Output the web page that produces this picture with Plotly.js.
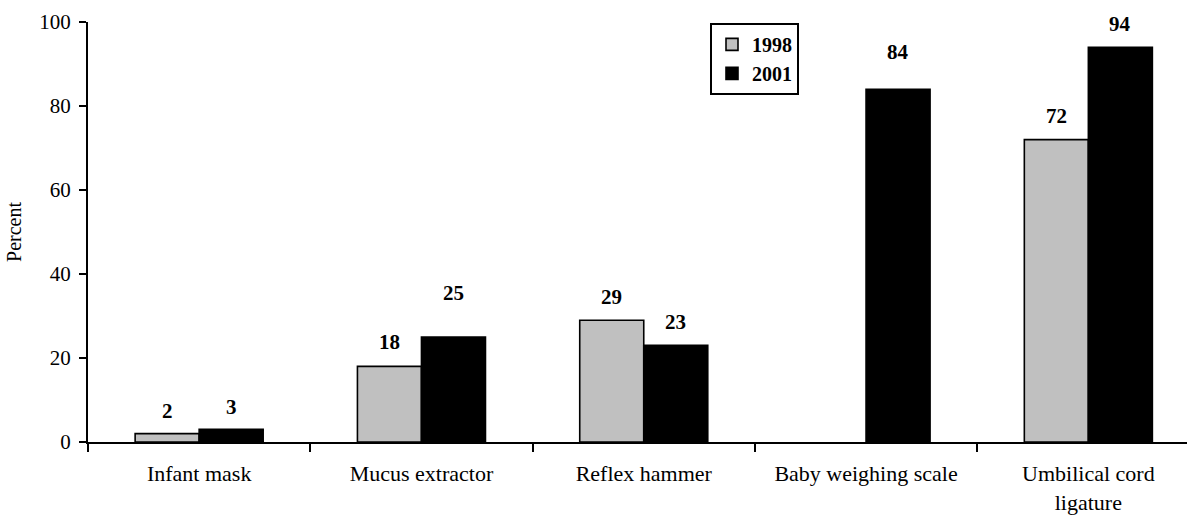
<!DOCTYPE html>
<html>
<head>
<meta charset="utf-8">
<script src="https://cdn.plot.ly/plotly-3.0.1.min.js"></script>
<style>html,body{margin:0;padding:0;background:#fff;}#chart{width:1187px;height:518px;}</style>
</head>
<body>
<div id="chart"></div>
<script>
// ---- data ----
const categories = ["Infant mask", "Mucus extractor", "Reflex hammer", "Baby weighing scale", "Umbilical cord<br>ligature"];
const series1998 = [2, 18, 29, null, 72];
const series2001 = [3, 25, 23, 84, 94];
const seriesNames = ["1998", "2001"];
const yTicks = [0, 20, 40, 60, 80, 100];

// ---- style ----
const FONT = 'Liberation Serif, Times New Roman, serif';
const BARGAP = 0.424;
const labelLift = [[23, 24, 23, null, 24], [22, 44, 23, 37, 23]];

const traces = [
  {type: 'bar', name: seriesNames[0], x: categories, y: series1998, legendgroup: 'a',
   marker: {color: '#c0c0c0', line: {color: '#000', width: 1.6}}, hoverinfo: 'skip'},
  {type: 'bar', name: seriesNames[1], x: categories, y: series2001, legendgroup: 'b',
   marker: {color: '#000000', line: {color: '#000', width: 1.6}}, hoverinfo: 'skip'}
];

const half = (1 - BARGAP) / 4;
const annotations = [];
[series1998, series2001].forEach((arr, s) => {
  arr.forEach((v, i) => {
    if (v === null) return;
    annotations.push({
      x: i + (s === 0 ? -half : half), y: v, xref: 'x', yref: 'y',
      text: '<b>' + v + '</b>', showarrow: false, yanchor: 'middle', xanchor: 'center',
      yshift: labelLift[s][i], font: {family: FONT, size: 21, color: '#000'}
    });
  });
});

const layout = {
  width: 1187, height: 518,
  margin: {l: 88, r: 0, t: 22, b: 76},
  paper_bgcolor: '#fff', plot_bgcolor: '#fff',
  font: {family: FONT, size: 21, color: '#000'},
  barmode: 'group', bargap: BARGAP, bargroupgap: 0,
  showlegend: true,
  legend: {
    x: (710 - 88) / 1099, y: 0.998, xanchor: 'left', yanchor: 'top',
    bgcolor: '#fff', bordercolor: '#000', borderwidth: 2,
    font: {family: FONT, size: 20, color: '#000', weight: 'bold'},
    traceorder: 'normal'
  },
  xaxis: {
    type: 'category', range: [-0.5, -0.5 + 1099 / 222.3],
    showline: true, linecolor: '#000', linewidth: 2,
    ticks: 'outside', tickson: 'boundaries', ticklen: 8, tickwidth: 2, tickcolor: '#000',
    ticklabelstandoff: 11,
    showgrid: false, zeroline: false, fixedrange: true,
    tickfont: {family: FONT, size: 22, color: '#000'}
  },
  yaxis: {
    range: [0, 100], tickvals: yTicks, ticktext: yTicks.map(String),
    showline: true, linecolor: '#000', linewidth: 2,
    ticks: 'outside', ticklen: 7, tickwidth: 2, tickcolor: '#000',
    ticklabelstandoff: 4,
    showgrid: false, zeroline: false, fixedrange: true,
    tickfont: {family: FONT, size: 21, color: '#000'},
    title: {text: 'Percent', font: {family: FONT, size: 20, color: '#000'}, standoff: 12},
    automargin: false
  },
  annotations: annotations
};

Plotly.newPlot('chart', traces, layout, {displayModeBar: false, staticPlot: true});
</script>
</body>
</html>
